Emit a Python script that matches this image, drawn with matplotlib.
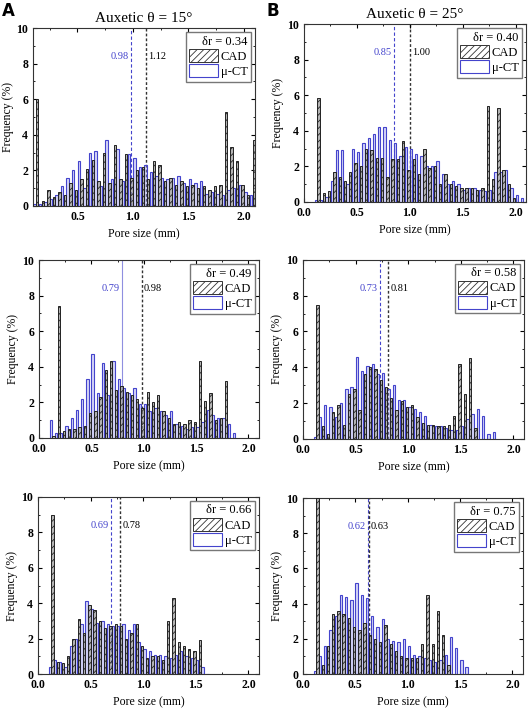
import numpy as np
import matplotlib.pyplot as plt
from matplotlib.patches import Patch
from matplotlib.ticker import MultipleLocator

plt.rcParams['font.family'] = ['Liberation Serif', 'DejaVu Serif']
plt.rcParams['hatch.linewidth'] = 0.6

# bin centres start at x0 and step by 0.05 mm
x0_a = 0.10
cad_a = [0.1, 6.0, 0.3, 0.9, 0.5, 0.8, 0.6, 1.3, 0.9, 1.5, 2.1, 2.6, 1.4, 3.0, 1.3, 3.4, 1.5, 2.9, 1.6, 2.0, 2.2,
         1.5, 2.5, 2.3, 1.4, 1.6, 1.2, 1.4, 1.1, 1.2, 1.0, 1.1, 0.9, 1.1, 1.2, 5.3, 3.3, 2.5, 1.2, 0.6, 3.7]
ct_a = [0.1, 0.1, 0.2, 0.4, 0.6, 1.1, 1.6, 2.0, 2.5, 1.0, 3.0, 3.1, 1.1, 3.7, 1.5, 3.2, 1.4, 2.9, 2.7, 2.2, 2.3,
        1.9, 1.7, 1.6, 1.5, 1.6, 1.7, 1.3, 1.5, 1.3, 1.4, 0.7, 0.8, 0.7, 0.6, 0.9, 1.0, 1.2, 0.8, 0.6, 0.5]

x0_b = 0.10
cad_b = [0.0, 5.85, 0.5, 0.6, 1.7, 1.4, 1.2, 1.7, 2.2, 2.0, 3.0, 2.9, 2.5, 2.5, 1.4, 2.4, 2.4, 3.4, 1.8, 2.4, 1.6,
         3.0, 1.9, 2.0, 1.0, 1.6, 1.0, 0.9, 0.8, 0.8, 0.8, 0.7, 0.8, 5.4, 1.3, 5.3, 1.8, 1.0, 0.2, 0.0, 0.0]
ct_b = [0.1, 0.1, 0.3, 1.2, 2.9, 2.9, 1.0, 3.0, 2.8, 3.3, 3.6, 3.8, 4.2, 4.2, 3.5, 3.3, 2.6, 3.1, 3.0, 2.7, 2.6,
        2.0, 2.0, 2.3, 1.6, 1.0, 1.2, 1.0, 0.7, 0.8, 0.8, 0.7, 0.6, 0.7, 1.7, 1.7, 1.8, 0.8, 0.4, 0.2, 0.2]

x0_c = 0.10
cad_c = [0.0, 0.1, 7.4, 0.4, 0.5, 0.5, 0.6, 0.7, 1.4, 1.5, 2.3, 3.8, 4.3, 2.7, 2.9, 2.6, 2.4, 2.2, 1.7, 2.6, 2.0,
         2.4, 1.5, 1.1, 0.8, 0.9, 0.8, 1.0, 0.9, 4.3, 2.1, 2.5, 1.0, 1.1, 3.2, 0.0]
ct_c = [1.0, 0.3, 0.3, 0.7, 1.1, 1.6, 2.2, 3.3, 4.7, 2.5, 4.2, 2.4, 4.3, 3.3, 2.8, 2.5, 2.8, 1.9, 1.9, 1.5, 1.7,
        1.5, 1.3, 1.5, 0.8, 0.7, 0.5, 0.6, 0.6, 0.9, 1.6, 1.3, 1.1, 1.1, 0.8, 0.3]

x0_d = 0.10
cad_d = [0.0, 7.5, 0.7, 0.3, 1.5, 1.9, 0.8, 2.5, 2.8, 1.6, 3.6, 4.0, 3.9, 3.3, 2.9, 2.3, 1.6, 2.1, 1.8, 1.9, 1.2,
         0.9, 0.8, 0.8, 0.7, 0.7, 0.8, 1.3, 4.2, 2.5, 4.5, 0.6, 0.0, 0.0, 0.0]
ct_d = [0.1, 1.2, 1.9, 1.8, 1.2, 2.0, 2.8, 2.9, 4.6, 3.8, 4.1, 4.2, 3.6, 3.7, 2.8, 3.0, 2.2, 2.2, 1.8, 1.7, 1.5,
        1.3, 0.8, 0.7, 0.7, 0.6, 0.5, 0.5, 0.7, 1.1, 1.4, 1.7, 1.3, 0.3, 0.4]

x0_e = 0.10
cad_e = [0.0, 9.0, 0.7, 0.6, 1.0, 2.0, 3.1, 2.3, 3.9, 3.6, 3.0, 2.6, 2.7, 2.8, 2.7, 2.0, 2.3, 2.8, 1.6, 0.9, 1.0,
         1.0, 0.8, 3.0, 4.3, 1.8, 1.6, 1.4, 1.3, 1.9, 0.0]
ct_e = [0.4, 0.8, 0.7, 0.4, 1.6, 2.0, 2.8, 4.1, 3.7, 2.9, 3.0, 2.8, 2.7, 2.7, 2.8, 2.5, 2.8, 1.8, 1.4, 1.3, 1.1,
        1.1, 1.0, 0.9, 1.1, 1.3, 1.0, 0.9, 0.8, 0.4, 0.0]

x0_f = 0.10
cad_f = [0.0, 10.0, 0.5, 1.6, 3.4, 3.6, 3.4, 3.2, 2.7, 2.5, 2.9, 2.2, 2.0, 1.8, 2.8, 1.7, 1.3, 1.0, 0.9, 0.9, 0.9,
         1.7, 4.5, 1.7, 3.6, 2.2, 0.5, 0.0, 0.0, 0.0]
ct_f = [0.2, 1.0, 1.6, 2.5, 3.3, 4.5, 4.4, 4.2, 5.2, 4.5, 4.3, 3.3, 2.7, 3.1, 2.0, 1.9, 1.8, 2.0, 1.6, 1.1, 1.0,
        0.9, 0.8, 0.7, 0.8, 1.1, 2.1, 1.5, 0.8, 0.4]

titles = ['Auxetic θ = 15°', 'Auxetic θ = 25°', None, None, None, None]
delta_r = ['0.34', '0.40', '0.49', '0.58', '0.66', '0.75']
mean_ct = [0.98, 0.85, 0.79, 0.73, 0.69, 0.62]
mean_cad = [1.12, 1.00, 0.98, 0.81, 0.78, 0.63]
x_start = [x0_a, x0_b, x0_c, x0_d, x0_e, x0_f]
cad_all = [cad_a, cad_b, cad_c, cad_d, cad_e, cad_f]
ct_all = [ct_a, ct_b, ct_c, ct_d, ct_e, ct_f]

blue = '#4444cc'
positions = [
    [0.0623, 0.7103, 0.419, 0.2503],
    [0.5736, 0.7159, 0.419, 0.2503],
    [0.0736, 0.3840, 0.415, 0.2503],
    [0.5717, 0.3826, 0.417, 0.2520],
    [0.0717, 0.0520, 0.417, 0.2490],
    [0.5717, 0.0520, 0.415, 0.2475],
]

fig = plt.figure(figsize=(5.30, 7.11), dpi=100)

for i in range(6):
    ax = fig.add_axes(positions[i])
    cad = np.array(cad_all[i])
    ct = np.array(ct_all[i])
    xc = x_start[i] + 0.05 * np.arange(len(cad))
    xt = x_start[i] + 0.05 * np.arange(len(ct))

    ax.bar(xt + 0.012, ct, width=0.022, facecolor=(0.6, 0.6, 0.92, 0.4), edgecolor=blue, linewidth=0.8, zorder=2)
    ax.bar(xc - 0.012, cad, width=0.022, facecolor=(0.55, 0.55, 0.55, 0.65), edgecolor='#222222', hatch='/////',
           linewidth=0.7, zorder=3)

    ls_ct = '-' if i == 2 else (0, (3, 2))
    ax.axvline(mean_ct[i], color=blue if i != 2 else '#8f8fe0', lw=0.8, ls=ls_ct, zorder=1)
    ax.axvline(mean_cad[i], color='#333333', lw=1.0, ls=(0, (2, 1.5)), zorder=1)
    ax.text(mean_ct[i] - 0.02, 8.4, f'{mean_ct[i]:.2f}', color=blue, fontsize=7.5, ha='right', va='center')
    ax.text(mean_cad[i] + 0.02, 8.4, f'{mean_cad[i]:.2f}', color='black', fontsize=7.5, ha='left', va='center')

    if i == 0:
        ax.set_xlim(0.1, 2.1)
        ax.set_xticks([0.5, 1.0, 1.5, 2.0])
    else:
        ax.set_xlim(0.0, 2.1)
        ax.set_xticks([0.0, 0.5, 1.0, 1.5, 2.0])
    ax.set_ylim(0, 10)
    ax.set_yticks([0, 2, 4, 6, 8, 10])
    ax.xaxis.set_minor_locator(MultipleLocator(0.25))
    ax.yaxis.set_minor_locator(MultipleLocator(1))
    ax.tick_params(which='both', direction='in', top=True, right=True, labelsize=8.5)
    ax.tick_params(which='major', length=3)
    ax.tick_params(which='minor', length=1.5)
    for lab in ax.get_xticklabels() + ax.get_yticklabels():
        lab.set_fontweight('bold')
    for sp in ax.spines.values():
        sp.set_linewidth(0.8)
        sp.set_color('#333333')

    ax.set_xlabel('Pore size (mm)', fontsize=8.5, labelpad=4)
    ax.set_ylabel('Frequency (%)', fontsize=8.5, labelpad=2)
    if titles[i]:
        ax.set_title(titles[i], fontsize=11, pad=4)

    handles = [Patch(facecolor='white', edgecolor='#333333', hatch='/////', linewidth=0.7),
               Patch(facecolor='white', edgecolor=blue, linewidth=0.8)]
    leg = ax.legend(handles, ['CAD', 'μ-CT'], title=f'δr = {delta_r[i]}', loc='upper right',
                    fontsize=9, title_fontsize=9, handlelength=2.3, handleheight=1.2, handletextpad=0.2,
                    borderpad=0.3, labelspacing=0.12, fancybox=False, framealpha=1, borderaxespad=0.3)
    leg.get_frame().set_edgecolor('#777777')
    leg.get_frame().set_linewidth(1.0)
    leg._legend_box.align = 'right'

fig.text(0.004, 0.997, 'A', fontsize=12, fontweight='bold', family='DejaVu Sans', va='top')
fig.text(0.503, 0.997, 'B', fontsize=12, fontweight='bold', family='DejaVu Sans', va='top')

fig.savefig('out.png', dpi=100)
